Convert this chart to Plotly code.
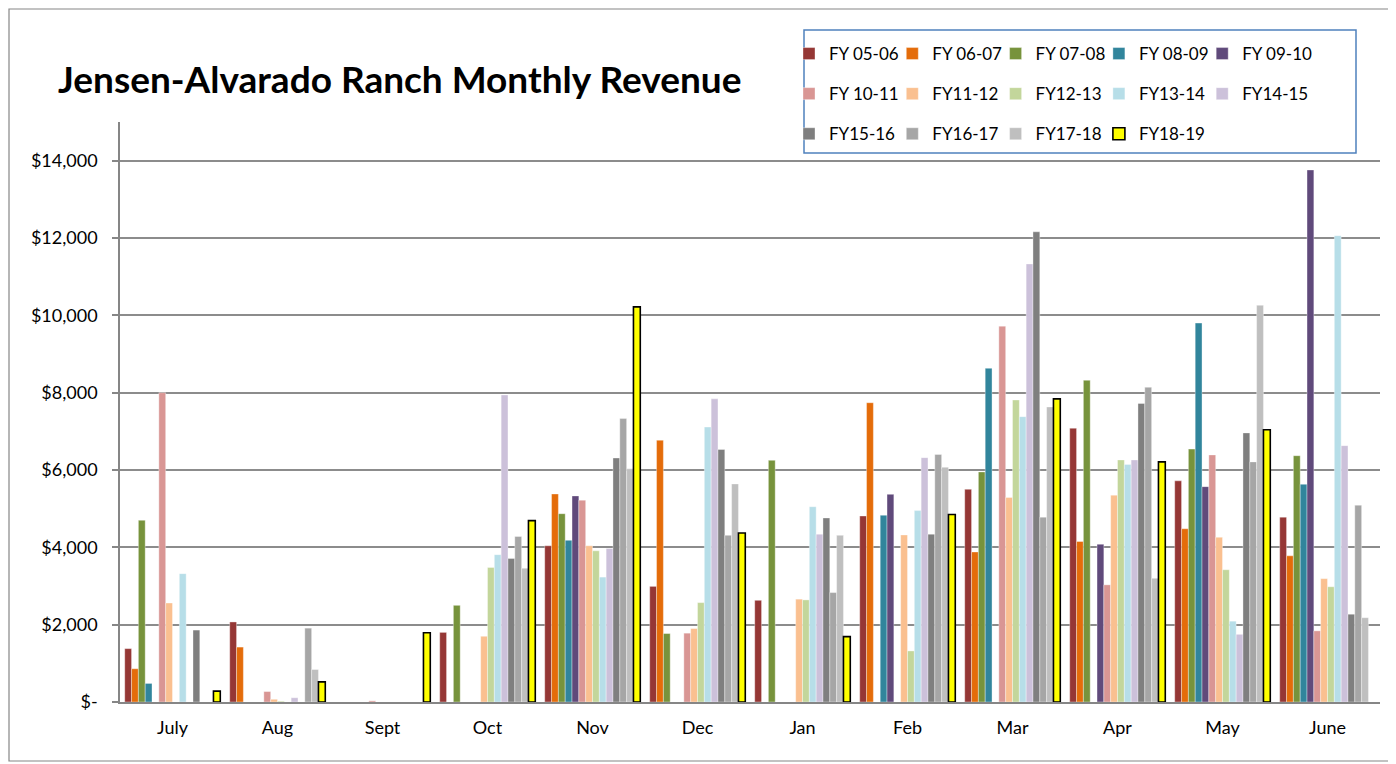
import plotly.graph_objects as go

months = ["July", "Aug", "Sept", "Oct", "Nov", "Dec", "Jan", "Feb", "Mar", "Apr", "May", "June"]

series_names = ["FY 05-06", "FY 06-07", "FY 07-08", "FY 08-09", "FY 09-10",
                "FY 10-11", "FY11-12", "FY12-13", "FY13-14", "FY14-15",
                "FY15-16", "FY16-17", "FY17-18", "FY18-19"]

fy_05_06 = [1380, 2070, 0, 1800, 4040, 2990, 2630, 4810, 5500, 7080, 5720, 4780]
fy_06_07 = [860, 1420, 0, 0, 5380, 6770, 0, 7740, 3880, 4150, 4480, 3780]
fy_07_08 = [4700, 0, 0, 2500, 4870, 1770, 6250, 0, 5950, 8320, 6540, 6370]
fy_08_09 = [480, 0, 0, 0, 4180, 0, 0, 4830, 8630, 0, 9800, 5630]
fy_09_10 = [0, 0, 0, 0, 5330, 0, 0, 5370, 0, 4080, 5570, 13760]
fy_10_11 = [8000, 270, 30, 0, 5220, 1780, 0, 0, 9720, 3030, 6390, 1840]
fy_11_12 = [2560, 70, 0, 1700, 4040, 1900, 2660, 4320, 5290, 5350, 4260, 3190]
fy_12_13 = [0, 20, 0, 3480, 3910, 2570, 2640, 1320, 7810, 6260, 3420, 2980]
fy_13_14 = [3320, 0, 0, 3810, 3230, 7110, 5050, 4950, 7380, 6140, 2090, 12060]
fy_14_15 = [0, 110, 0, 7940, 3970, 7840, 4340, 6320, 11330, 6260, 1750, 6630]
fy_15_16 = [1860, 0, 0, 3710, 6310, 6530, 4760, 4340, 12160, 7720, 6960, 2270]
fy_16_17 = [0, 1910, 0, 4280, 7330, 4310, 2830, 6400, 4780, 8140, 6210, 5090]
fy_17_18 = [0, 840, 0, 3460, 6030, 5640, 4310, 6070, 7630, 3200, 10260, 2180]
fy_18_19 = [280, 520, 1790, 4690, 10220, 4370, 1690, 4850, 7840, 6210, 7040, None]

series_values = [fy_05_06, fy_06_07, fy_07_08, fy_08_09, fy_09_10, fy_10_11, fy_11_12,
                 fy_12_13, fy_13_14, fy_14_15, fy_15_16, fy_16_17, fy_17_18, fy_18_19]

colors = ["#953735", "#E46C0A", "#77933C", "#31859C", "#604A7B", "#D99694", "#FAC090",
          "#C3D69B", "#B7DEE8", "#CCC1DA", "#7F7F7F", "#A6A6A6", "#BFBFBF", "#FFFF00"]

ytick_vals = [0, 2000, 4000, 6000, 8000, 10000, 12000, 14000]
ytick_text = ["$-", "$2,000", "$4,000", "$6,000", "$8,000", "$10,000", "$12,000", "$14,000"]

W, H = 1396, 764
OFF = 8  # page offset of the figure inside the browser window
# target plot area in screenshot pixels: x 120..1380, y 122..702
L = 120 - OFF
T = 122 - OFF
R = W - (1380 - OFF)
B = H - (702 - OFF)
PW, PH = W - L - R, H - T - B

FONT = "Lato"
N_COLS = 5
legend_ids = ["legend", "legend2", "legend3", "legend4", "legend5"]

fig = go.Figure()
for i, (name, vals, col) in enumerate(zip(series_names, series_values, colors)):
    is_last = (i == len(series_names) - 1)
    fig.add_trace(go.Bar(
        x=months, y=vals, name=name,
        marker=dict(color=col,
                    line=dict(color="#000000" if is_last else "rgba(255,255,255,0.6)",
                              width=1.6 if is_last else 0.6)),
        legend=legend_ids[i % N_COLS],
        legendgroup=name,
    ))


def px_x(px):
    return (px - OFF - L) / PW


def px_y(py):
    return (H - B - (py - OFF)) / PH


def cx(px):
    return (px - OFF) / W


def cy(py):
    return 1 - (py - OFF) / H


leg_common = dict(orientation="v", xref="container", yref="container",
                  xanchor="left", yanchor="top", bgcolor="rgba(0,0,0,0)",
                  font=dict(family=FONT, size=17, color="#000000"),
                  borderwidth=0, traceorder="grouped", tracegroupgap=15)
legends = {}
for k, lid in enumerate(legend_ids):
    legends[lid] = dict(x=cx(789 + 103.3 * k), y=cy(36), **leg_common)

fig.update_layout(
    width=W, height=H,
    margin=dict(l=L, r=R, t=T, b=B, autoexpand=False),
    paper_bgcolor="white", plot_bgcolor="white",
    barmode="group", bargap=0.09, bargroupgap=0.0,
    font=dict(family=FONT, size=18, color="#000000"),
    title=dict(text="<b>Jensen-Alvarado Ranch Monthly Revenue</b>",
               xref="container", yref="container", x=cx(58), xanchor="left",
               y=cy(80), yanchor="middle",
               font=dict(family=FONT, size=37, color="#000000")),
    xaxis=dict(showline=True, linecolor="#868686", linewidth=1.5,
               ticks="", tickfont=dict(family=FONT, size=18), ticklabelstandoff=9,
               showgrid=False, zeroline=False),
    yaxis=dict(range=[0, 15000], tickvals=ytick_vals, ticktext=ytick_text,
               showline=True, linecolor="#868686", linewidth=1.5,
               ticks="outside", ticklen=6, tickcolor="#868686", tickwidth=1.5,
               ticklabelstandoff=11,
               showgrid=True, gridcolor="#8C8C8C", gridwidth=1.5,
               zeroline=False, tickfont=dict(family=FONT, size=18)),
    showlegend=True,
    **legends,
)

# outer chart border
fig.add_shape(type="rect", xref="paper", yref="paper",
              x0=px_x(OFF + 1), x1=px_x(1391), y0=px_y(761), y1=px_y(OFF + 1),
              line=dict(color="#868686", width=1.2), fillcolor="rgba(0,0,0,0)", layer="below")
# legend border
fig.add_shape(type="rect", xref="paper", yref="paper",
              x0=px_x(804), x1=px_x(1356), y0=px_y(153), y1=px_y(30),
              line=dict(color="#4F81BD", width=1.5), fillcolor="rgba(0,0,0,0)")

fig.write_html("out.html")
